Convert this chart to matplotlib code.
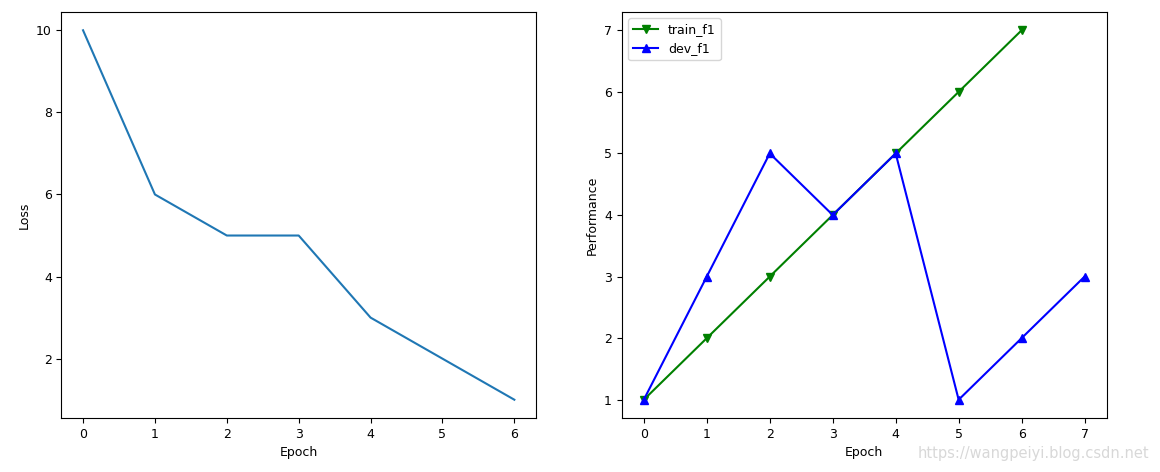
import matplotlib
matplotlib.use('Agg')
import matplotlib.pyplot as plt

epochs_loss = [0, 1, 2, 3, 4, 5, 6]
loss = [10, 6, 5, 5, 3, 2, 1]

epochs_f1 = [0, 1, 2, 3, 4, 5, 6, 7]
train_f1 = [1, 2, 3, 4, 5, 6, 7]
dev_f1 = [1, 3, 5, 4, 5, 1, 2, 3]

plt.rcParams['font.size'] = 9

fig = plt.figure(figsize=(11.6, 4.72), dpi=100)

ax1 = fig.add_axes([0.053, 0.114, 0.409, 0.861])
ax1.plot(epochs_loss, loss)
ax1.set_xlabel('Epoch')
ax1.set_ylabel('Loss')

ax2 = fig.add_axes([0.536, 0.114, 0.418, 0.861])
ax2.plot(epochs_f1[:len(train_f1)], train_f1, 'g-v', label='train_f1')
ax2.plot(epochs_f1, dev_f1, 'b-^', label='dev_f1')
ax2.set_xlabel('Epoch')
ax2.set_ylabel('Performance')
ax2.legend(loc='upper left')

# watermark
fig.text(0.991, 0.04, 'https://wangpeiyi.blog.csdn.net', ha='right', va='center',
         color='#d8d8d8', fontsize=10.5)

fig.savefig('out.png', dpi=100)
